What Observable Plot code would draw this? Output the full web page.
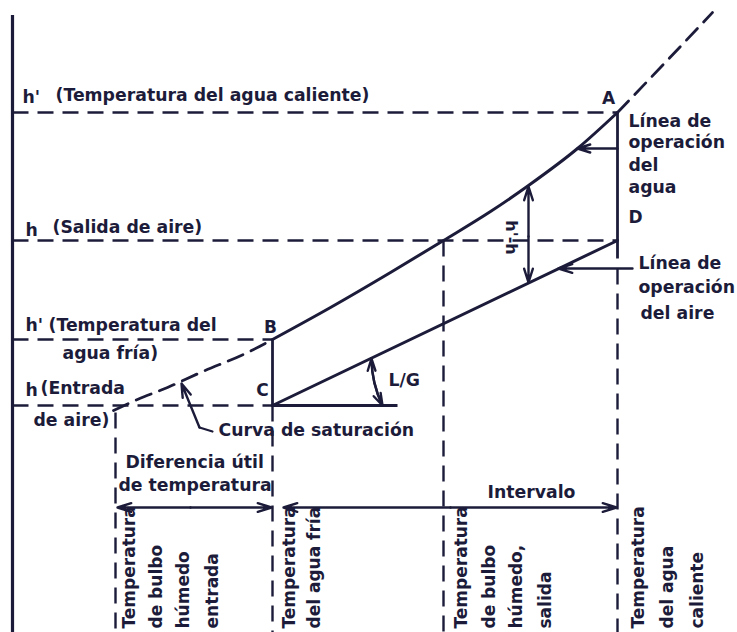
<!DOCTYPE html>
<html><head><meta charset="utf-8">
<script src="https://cdn.jsdelivr.net/npm/d3@7"></script>
<script src="https://cdn.jsdelivr.net/npm/@observablehq/plot@0.6"></script>
<style>body{margin:0;background:#fff} svg{display:block}</style>
</head><body><div id="chart"></div>
<script>
const INK = "#1c1c3a";
const FONT = "DejaVu Sans";

// Temperatures (schematic horizontal scale)
const tAxis = 12, tWetIn = 115, tCold = 272, tWetOut = 443, tHot = 617;
// Enthalpy levels (schematic vertical scale)
const hHot = 520, hOut = 392, hCold = 293, hIn = 227;
const hTop = 617, hRange = 125;

// Saturation curve, three stretches
const satLow = [
  {t: 113, h: 222}, {t: 137, h: 233}, {t: 167, h: 245}, {t: 200, h: 260},
  {t: 247, h: 280}, {t: 272, h: 293}
];
const satMid = [
  {t: 272, h: 293}, {t: 330, h: 325}, {t: 390, h: 360}, {t: 443, h: 392},
  {t: 490, h: 421}, {t: 528, h: 447}, {t: 577, h: 484}, {t: 617, h: 520}
];
const satHigh = [
  {t: 617, h: 520}, {t: 660, h: 565}, {t: 712, h: 620}
];
// Air operating line C -> D
const airLine = [{t: tCold, h: hIn}, {t: tHot, h: hOut}];

// Dashed horizontal reference levels
const levels = [
  {h: hHot, tEnd: tHot},
  {h: hOut, tEnd: tHot},
  {h: hCold, tEnd: tCold},
  {h: hIn, tEnd: tCold}
];
// Solid segments
const solidSegs = [
  {t1: tCold, h1: hCold, t2: tCold, h2: hIn},   // B-C
  {t1: tHot, h1: hHot, t2: tHot, h2: 374},      // A-D
  {t1: tCold, h1: hIn, t2: 397, h2: hIn}        // base of L/G angle
];
// Dashed verticals
const dashVert = [
  {t: tWetIn, h1: 220, h2: 0},
  {t: tCold, h1: hIn, h2: 0},
  {t: tWetOut, h1: hOut, h2: 0},
  {t: tHot, h1: 364, h2: 0}
];
// Arrows
const arrows = [
  {t1: 617, h1: 484, t2: 577, h2: 484},   // water operating line pointer
  {t1: 632, h1: 364, t2: 558, h2: 364},   // air operating line pointer
  {t1: 528, h1: 396, t2: 528, h2: 446},   // h'-h up
  {t1: 528, h1: 396, t2: 528, h2: 350},   // h'-h down
  {t1: 190, h1: hRange, t2: 117, h2: hRange},
  {t1: 190, h1: hRange, t2: 271, h2: hRange},
  {t1: 450, h1: hRange, t2: 283, h2: hRange},
  {t1: 450, h1: hRange, t2: 616, h2: hRange},
  {t1: 199, h1: 205, t2: 181, h2: 249}    // saturation curve pointer
];
const pointerTail = [{t: 212, h: 201}, {t: 199, h: 205}];
// L/G arc ends
const lgArc = [
  {t1: 382, h1: hIn, t2: 371, h2: 274, bend: 1},
  {t1: 371, h1: 274, t2: 382, h2: hIn, bend: -1}
];

// Labels
const labels = [
  {t: 22, h: 535, text: "h'"},
  {t: 55, h: 537, text: "(Temperatura del agua caliente)"},
  {t: 25, h: 402, text: "h"},
  {t: 52, h: 405, text: "(Salida de aire)"},
  {t: 25, h: 307, text: "h'"},
  {t: 48, h: 307, text: "(Temperatura del"},
  {t: 62, h: 279, text: "agua fría)"},
  {t: 25, h: 242, text: "h"},
  {t: 40, h: 244, text: "(Entrada"},
  {t: 33, h: 212, text: "de aire)"},
  {t: 628, h: 511, text: "Línea de"},
  {t: 628, h: 490, text: "operación"},
  {t: 628, h: 467, text: "del"},
  {t: 628, h: 445, text: "agua"},
  {t: 638, h: 369, text: "Línea de"},
  {t: 638, h: 345, text: "operación"},
  {t: 640, h: 319, text: "del aire"},
  {t: 388, h: 252, text: "L/G"},
  {t: 218, h: 202, text: "Curva de saturación"},
  {t: 125, h: 170, text: "Diferencia útil"},
  {t: 118, h: 147, text: "de temperatura"},
  {t: 487, h: 140, text: "Intervalo"}
];
const points = [
  {t: 270, h: 305, text: "B"},
  {t: 262, h: 242, text: "C"},
  {t: 608, h: 534, text: "A"},
  {t: 635, h: 415, text: "D"}
];
const vertLabels = [
  {t: 129, text: "Temperatura"}, {t: 156, text: "de bulbo"},
  {t: 183, text: "húmedo"}, {t: 212, text: "entrada"},
  {t: 289, text: "Temperatura"}, {t: 314, text: "del agua fría"},
  {t: 461, text: "Temperatura"}, {t: 489, text: "de bulbo"},
  {t: 516, text: "húmedo,"}, {t: 545, text: "salida"},
  {t: 638, text: "Temperatura"}, {t: 667, text: "del agua"},
  {t: 697, text: "caliente"}
];

const DASH = "16,9";
const plot = Plot.plot({
  width: 737, height: 632,
  margin: 0,
  x: {domain: [0, 737], axis: null},
  y: {domain: [0, 632], axis: null},
  style: {background: "#fff"},
  marks: [
    Plot.ruleX([tAxis], {y1: 0, y2: hTop, stroke: INK, strokeWidth: 3.2}),
    Plot.link(levels, {x1: d => tAxis, x2: "tEnd", y1: "h", y2: "h", stroke: INK, strokeWidth: 2.6, strokeDasharray: DASH}),
    Plot.link(dashVert, {x1: "t", x2: "t", y1: "h1", y2: "h2", stroke: INK, strokeWidth: 2.4, strokeDasharray: DASH}),
    Plot.link(solidSegs, {x1: "t1", y1: "h1", x2: "t2", y2: "h2", stroke: INK, strokeWidth: 2.8}),
    Plot.line(satLow, {x: "t", y: "h", curve: "monotone-x", stroke: INK, strokeWidth: 2.8, strokeDasharray: DASH}),
    Plot.line(satMid, {x: "t", y: "h", curve: "monotone-x", stroke: INK, strokeWidth: 3}),
    Plot.line(satHigh, {x: "t", y: "h", curve: "monotone-x", stroke: INK, strokeWidth: 2.8, strokeDasharray: DASH}),
    Plot.line(airLine, {x: "t", y: "h", stroke: INK, strokeWidth: 3}),
    Plot.arrow(arrows, {x1: "t1", y1: "h1", x2: "t2", y2: "h2", stroke: INK, strokeWidth: 2.4, headLength: 9, headAngle: 35}),
    Plot.line(pointerTail, {x: "t", y: "h", stroke: INK, strokeWidth: 2.2}),
    Plot.arrow(lgArc.filter(d => d.bend > 0), {x1: "t1", y1: "h1", x2: "t2", y2: "h2", bend: 12.75, stroke: INK, strokeWidth: 2.4, headLength: 8, headAngle: 35}),
    Plot.arrow(lgArc.filter(d => d.bend < 0), {x1: "t1", y1: "h1", x2: "t2", y2: "h2", bend: -12.75, stroke: INK, strokeWidth: 2.4, headLength: 8, headAngle: 35}),
    Plot.text(labels, {x: "t", y: "h", text: "text", textAnchor: "start", fill: INK, fontSize: 17.3, fontWeight: "bold", fontFamily: FONT}),
    Plot.text(points, {x: "t", y: "h", text: "text", fill: INK, fontSize: 17, fontWeight: "bold", fontFamily: FONT}),
    Plot.text([{t: 511, h: 395, text: "h'-h"}], {x: "t", y: "h", text: "text", rotate: 90, fill: INK, fontSize: 16, fontWeight: "bold", fontFamily: FONT}),
    Plot.text(vertLabels, {x: "t", y: d => 4, text: "text", rotate: -90, textAnchor: "start", fill: INK, fontSize: 17, fontWeight: "bold", fontFamily: FONT})
  ]
});
document.getElementById("chart").append(plot);
</script>
</body></html>
